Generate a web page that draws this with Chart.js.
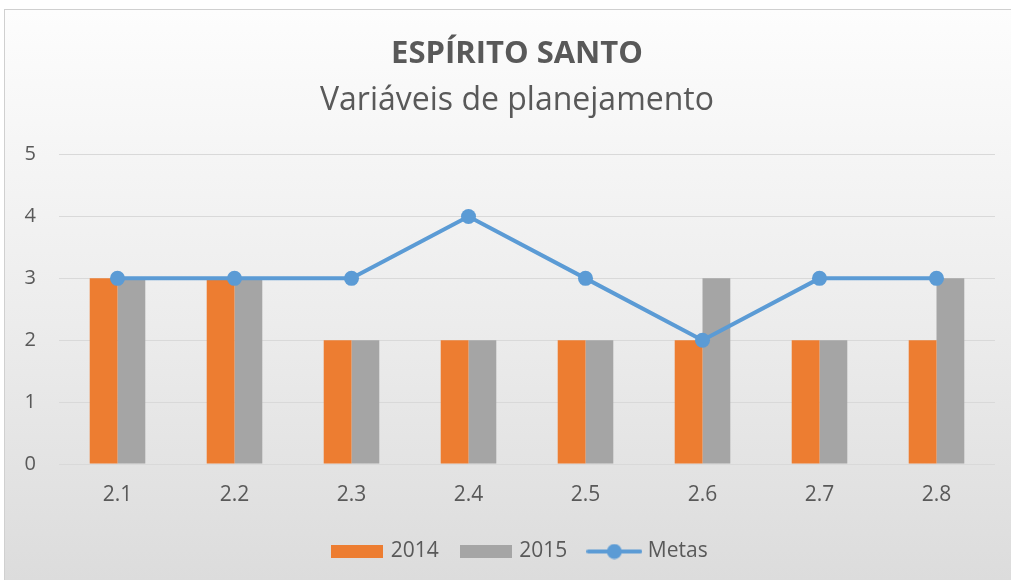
<!DOCTYPE html>
<html>
<head>
<meta charset="utf-8">
<script src="https://cdn.jsdelivr.net/npm/chart.js@4/dist/chart.umd.min.js"></script>
<style>
  html, body { margin: 0; padding: 0; background: #fff; }
  #frame {
    position: absolute; left: 4px; top: 9px; width: 1007px; height: 571px;
    border-left: 1px solid #d0d0d0; border-top: 1px solid #d0d0d0;
    background: linear-gradient(to bottom, #fdfdfd 0%, #ececec 55%, #dcdcdc 100%);
  }
  #frame canvas { display: block; }
</style>
</head>
<body>
<div id="frame"><canvas id="chart" width="1006" height="570"></canvas></div>
<script>
// chart data
const categories = ['2.1', '2.2', '2.3', '2.4', '2.5', '2.6', '2.7', '2.8'];
const values2014 = [3, 3, 2, 2, 2, 2, 2, 2];
const values2015 = [3, 3, 2, 2, 2, 3, 2, 3];
const metas = [3, 3, 3, 4, 3, 2, 3, 3];
const yTicks = [0, 1, 2, 3, 4, 5];

const TITLE = 'ESPÍRITO SANTO';
const SUBTITLE = 'Variáveis de planejamento';

const ORANGE = '#ED7D31';
const GRAY = '#A5A5A5';
const BLUE = '#5B9BD5';
const TEXT = '#595959';

// legend symbols drawn as small canvases
function rectSymbol(color) {
  const c = document.createElement('canvas');
  c.width = 52; c.height = 13;
  const g = c.getContext('2d');
  g.fillStyle = color;
  g.fillRect(0, 0, 52, 13);
  return c;
}

function lineSymbol(color) {
  const c = document.createElement('canvas');
  c.width = 56; c.height = 16;
  const g = c.getContext('2d');
  g.strokeStyle = color;
  g.lineWidth = 4;
  g.lineCap = 'round';
  g.beginPath();
  g.moveTo(2, 8); g.lineTo(54, 8);
  g.stroke();
  g.fillStyle = color;
  g.beginPath();
  g.arc(28, 8, 7.5, 0, Math.PI * 2);
  g.fill();
  return c;
}

const legendSymbols = [rectSymbol(ORANGE), rectSymbol(GRAY), lineSymbol(BLUE)];
const legendOrder = ['2014', '2015', 'Metas'];

// titles and legend sit a bit right of centre in the original
const shiftBoxes = {
  id: 'shiftBoxes',
  afterLayout(chart) {
    const subtitleBox = chart.boxes.find(b => b.options && b.options.text === SUBTITLE);
    [[chart.titleBlock, 17], [subtitleBox, 17], [chart.legend, 21]].forEach(([box, dx]) => {
      if (!box) return;
      box.left += dx;
      box.right += dx;
    });
  }
};

new Chart(document.getElementById('chart').getContext('2d'), {
  data: {
    labels: categories,
    datasets: [
      {
        type: 'line',
        label: 'Metas',
        data: metas,
        borderColor: BLUE,
        backgroundColor: BLUE,
        borderWidth: 4,
        pointRadius: 7.5,
        pointHoverRadius: 7.5,
        pointBackgroundColor: BLUE,
        pointBorderWidth: 0,
        tension: 0,
        order: 0
      },
      {
        type: 'bar',
        label: '2014',
        data: values2014,
        backgroundColor: ORANGE,
        barPercentage: 1,
        categoryPercentage: 0.475,
        order: 1
      },
      {
        type: 'bar',
        label: '2015',
        data: values2015,
        backgroundColor: GRAY,
        barPercentage: 1,
        categoryPercentage: 0.475,
        order: 1
      }
    ]
  },
  plugins: [shiftBoxes],
  options: {
    responsive: false,
    animation: false,
    layout: { padding: { left: 0, right: 16, top: 0, bottom: 8 } },
    plugins: {
      title: {
        display: true,
        text: TITLE,
        color: TEXT,
        font: { family: 'Open Sans', size: 31, weight: 'bold' },
        padding: { top: 26, bottom: 8 }
      },
      subtitle: {
        display: true,
        text: SUBTITLE,
        color: TEXT,
        font: { family: 'Open Sans', size: 32 },
        padding: { top: 0, bottom: 35 }
      },
      legend: {
        position: 'bottom',
        labels: {
          color: TEXT,
          font: { family: 'Open Sans', size: 21 },
          usePointStyle: true,
          pointStyleWidth: 46,
          padding: 24,
          generateLabels: (chart) => legendOrder.map((name, i) => ({
            text: name,
            fontColor: TEXT,
            pointStyle: legendSymbols[i],
            fillStyle: 'transparent',
            strokeStyle: 'transparent',
            lineWidth: 0,
            hidden: false,
            datasetIndex: chart.data.datasets.findIndex(d => d.label === name)
          }))
        }
      },
      tooltip: { enabled: false }
    },
    scales: {
      x: {
        grid: { display: false },
        border: { display: false },
        afterFit: (axis) => { axis.height = 53; },
        ticks: { color: TEXT, font: { family: 'Open Sans', size: 21 }, padding: 10 }
      },
      y: {
        min: 0,
        max: 5,
        afterBuildTicks: (axis) => { axis.ticks = yTicks.map(v => ({ value: v })); },
        afterFit: (axis) => { axis.width = 54; },
        grid: { color: '#d9d9d9', lineWidth: 1, drawTicks: false },
        border: { display: false },
        ticks: { color: TEXT, font: { family: 'Open Sans', size: 20 }, padding: 23 }
      }
    }
  }
});
</script>
</body>
</html>
